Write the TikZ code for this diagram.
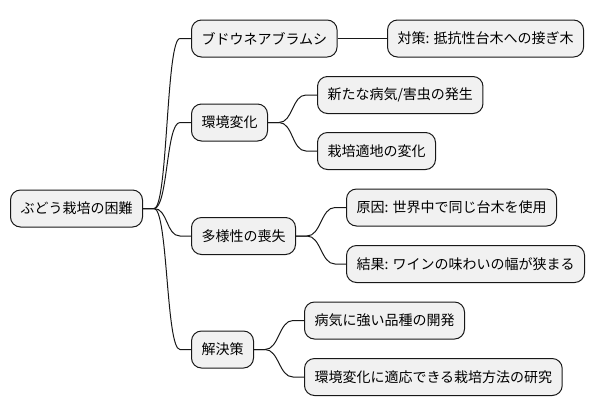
\documentclass[tikz,border=0pt]{standalone}
\usepackage{fontspec}
\setmainfont{Noto Sans CJK JP}
\usetikzlibrary{calc}
\definecolor{boxfill}{HTML}{F1F1F1}
\definecolor{boxline}{HTML}{181818}
\tikzset{
  mm/.style={draw=boxline, fill=boxfill, line width=1bp, rounded corners=10bp,
    minimum height=37bp, inner xsep=10bp, inner ysep=0bp, anchor=west,
    font=\fontsize{14bp}{16bp}\selectfont, text=black},
  link/.style={draw=boxline, line width=1bp}
}
\newcommand{\conn}[2]{%
  \draw[link] (#1.east) -- ++(11,0) coordinate (tmpA)
    .. controls ($(tmpA)+(14,0)$) and ($(#2.west)+(-25,0)$) .. ($(#2.west)+(-11,0)$)
    -- (#2.west);}
\begin{document}
\begin{tikzpicture}[x=1bp,y=-1bp]
\useasboundingbox (0,0) rectangle (596,415);
\node[mm] (root) at (10,208.5) {ぶどう栽培の困難};
\node[mm] (a) at (191,38.5) {ブドウネアブラムシ};
\node[mm] (b) at (191,122.5) {環境変化};
\node[mm] (c) at (191,236) {多様性の喪失};
\node[mm] (d) at (191,349.5) {解決策};
\node[mm] (a1) at (387,38.5) {対策: 抵抗性台木への接ぎ木};
\node[mm] (b1) at (317,95) {新たな病気/害虫の発生};
\node[mm] (b2) at (317,151) {栽培適地の変化};
\node[mm] (c1) at (346,207.5) {原因: 世界中で同じ台木を使用};
\node[mm] (c2) at (346,264) {結果: ワインの味わいの幅が狭まる};
\node[mm] (d1) at (304,320.5) {病気に強い品種の開発};
\node[mm] (d2) at (304,377) {環境変化に適応できる栽培方法の研究};
\conn{root}{a}
\conn{root}{b}
\conn{root}{c}
\conn{root}{d}
\conn{a}{a1}
\conn{b}{b1}
\conn{b}{b2}
\conn{c}{c1}
\conn{c}{c2}
\conn{d}{d1}
\conn{d}{d2}
\end{tikzpicture}
\end{document}
